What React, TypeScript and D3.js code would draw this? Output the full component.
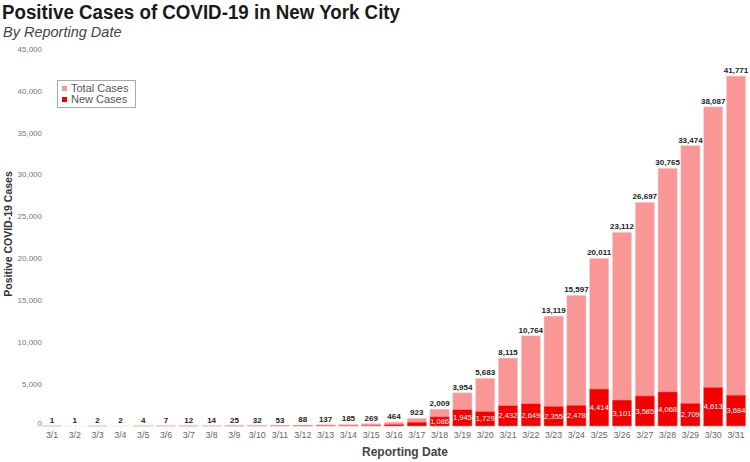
import React from "react";
import * as d3 from "d3";

const dates = ["3/1","3/2","3/3","3/4","3/5","3/6","3/7","3/8","3/9","3/10","3/11","3/12","3/13","3/14","3/15","3/16","3/17","3/18","3/19","3/20","3/21","3/22","3/23","3/24","3/25","3/26","3/27","3/28","3/29","3/30","3/31"];
const totalCases = [1,1,2,2,4,7,12,14,25,32,53,88,137,185,269,464,923,2009,3954,5683,8115,10764,13119,15597,20011,23112,26697,30765,33474,38087,41771];
const newCases = [1,0,1,0,2,3,5,2,11,7,21,35,49,48,84,195,459,1086,1945,1729,2432,2649,2355,2478,4414,3101,3585,4068,2709,4613,3684];
const yTicks = [0,5000,10000,15000,20000,25000,30000,35000,40000,45000];

const PINK = "#F99797";
const RED = "#F40000";

export default function App() {
  const W = 750, H = 462;
  const x = d3.scaleBand<string>().domain(dates).range([40.6, 747.4]).paddingInner(0.16).paddingOuter(0.08);
  const y = d3.scaleLinear().domain([0, 45000]).range([426, 49]);
  const fmt = d3.format(",");
  const bw = x.bandwidth();
  const font = "Arial, 'Liberation Sans', sans-serif";

  return (
    <svg width={W} height={H} style={{ position: "absolute", left: 0, top: 0 }} fontFamily={font}>
      <rect width={W} height={H} fill="#fff" />
      <text x={2} y={19} fontSize={19.5} fontWeight="bold" fill="#1a1a1a" textLength={398} lengthAdjust="spacingAndGlyphs">Positive Cases of COVID-19 in New York City</text>
      <text x={3} y={37} fontSize={14.5} fontStyle="italic" fill="#444">By Reporting Date</text>

      {yTicks.map((t) => (
        <text key={t} x={42} y={t === 0 ? 423.5 : y(t)} dy="0.35em" textAnchor="end" fontSize={8} fill="#777">{fmt(t)}</text>
      ))}
      <text transform={`translate(12,${234}) rotate(-90)`} textAnchor="middle" fontSize={10.5} fontWeight="bold" fill="#333">Positive COVID-19 Cases</text>

      {dates.map((d, i) => {
        const x0 = x(d)!;
        const t = totalCases[i];
        const n = newCases[i];
        const yt = y(t);
        const yn = y(n);
        const cx = x0 + bw / 2;
        const mid = Math.min((yn + y(0)) / 2, y(0) - 5);
        return (
          <g key={d}>
            <rect x={x0} y={yt} width={bw} height={y(0) - yt} fill={PINK} stroke="#fbd0d0" strokeWidth={0.5} />
            <rect x={x0} y={yn} width={bw} height={y(0) - yn} fill={RED} stroke="#ff8080" strokeWidth={0.5} />
            <text x={cx} y={Math.min(yt, y(0)) - 3} textAnchor="middle" fontSize={8} fontWeight="bold" fill="#222">{fmt(t)}</text>
            {n >= 1000 && (
              <text x={cx} y={mid} dy="0.35em" textAnchor="middle" fontSize={7.5} fill="#fff">{fmt(n)}</text>
            )}
            <text x={cx} y={437.5} textAnchor="middle" fontSize={8.8} fill="#666">{d}</text>
          </g>
        );
      })}

      <text x={405} y={456} textAnchor="middle" fontSize={12} fontWeight="bold" fill="#444">Reporting Date</text>

      <g>
        <rect x={57.5} y={80.5} width={78} height={27} fill="#fff" stroke="#aaa" strokeWidth={1} />
        <rect x={62} y={86} width={5} height={5} fill={PINK} />
        <text x={71} y={92} fontSize={11} fill="#555">Total Cases</text>
        <rect x={62} y={97} width={5} height={5} fill={RED} />
        <text x={71} y={103} fontSize={11} fill="#555">New Cases</text>
      </g>
    </svg>
  );
}
